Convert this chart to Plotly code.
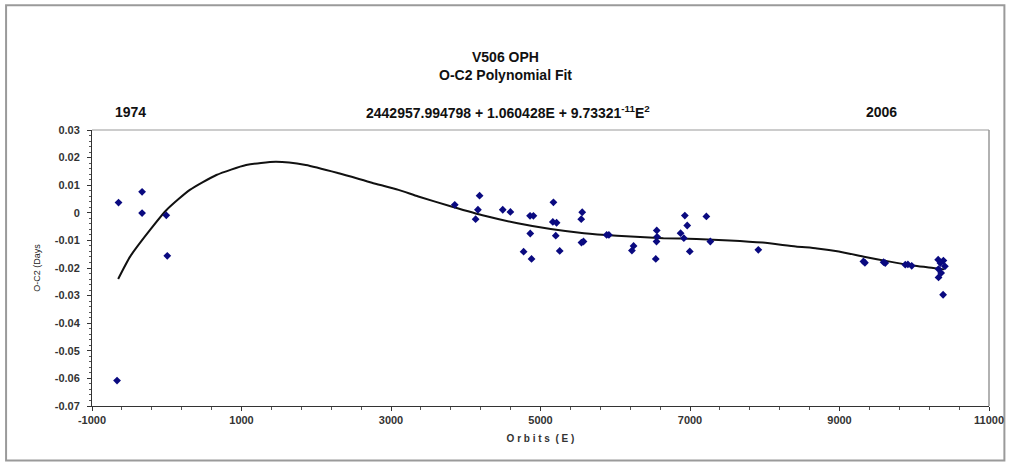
import plotly.graph_objects as go

# Observed O-C2 values (orbit number E, days)
E_obs = [-645, -665, -330, -330, -6, 7,
         3853, 4185, 4163, 4132, 4495, 4597, 4860, 4905, 4863, 4774, 4880,
         5173, 5165, 5215, 5204, 5257, 5558, 5545, 5548, 5575, 5885, 5915,
         6245, 6223, 6555, 6560, 6552, 6542, 6931, 6963, 6874, 6918, 6997,
         7219, 7272, 7914, 9320, 9340, 9590, 9612, 9880, 9915, 9966,
         10320, 10390, 10350, 10410, 10325, 10360, 10325, 10386]
OC_obs = [0.0037, -0.0608, 0.0076, -0.0001, -0.0009, -0.0156,
          0.0029, 0.0062, 0.0011, -0.0023, 0.0011, 0.0003, -0.0011, -0.0011, -0.0075, -0.0141, -0.0167,
          0.0038, -0.0033, -0.0036, -0.0083, -0.0138, 0.0002, -0.0023, -0.0108, -0.0104, -0.0080, -0.0080,
          -0.0120, -0.0137, -0.0064, -0.0087, -0.0104, -0.0167, -0.0010, -0.0046, -0.0074, -0.0092, -0.0140,
          -0.0013, -0.0104, -0.0134, -0.0176, -0.0181, -0.0179, -0.0182, -0.0188, -0.0187, -0.0192,
          -0.0170, -0.0173, -0.0182, -0.0194, -0.0204, -0.0218, -0.0234, -0.0297]

# Polynomial fit curve
E_fit = [-650, -488, -223, 0, 309, 664, 1062, 1461, 1860, 2302, 2745, 3100, 3365,
         3808, 4252, 4694, 5137, 5581, 6023, 6644, 7087, 7529, 7972, 8415, 8700,
         8991, 9345, 9655, 10010, 10253, 10400]
OC_fit = [-0.0240, -0.0158, -0.0062, 0.0011, 0.0083, 0.0137, 0.0173, 0.0185, 0.0173, 0.0143, 0.0109, 0.0083, 0.0059,
          0.0023, -0.0011, -0.0038, -0.0059, -0.0074, -0.0083, -0.0092, -0.0095, -0.0100, -0.0108, -0.0122, -0.0129,
          -0.0140, -0.0160, -0.0176, -0.0192, -0.0200, -0.0205]

y_tickvals = [0.03, 0.02, 0.01, 0, -0.01, -0.02, -0.03, -0.04, -0.05, -0.06, -0.07]
y_ticktext = ["0.03", "0.02", "0.01", "0", "-0.01", "-0.02", "-0.03", "-0.04", "-0.05", "-0.06", "-0.07"]
x_tickvals = [-1000, 1000, 3000, 5000, 7000, 9000, 11000]
x_ticktext = ["-1000", "1000", "3000", "5000", "7000", "9000", "11000"]

FONT = "Liberation Sans, Arial, sans-serif"

fig = go.Figure()
fig.add_trace(go.Scatter(x=E_fit, y=OC_fit, mode="lines",
                         line=dict(color="#111111", width=2, shape="spline", smoothing=0.6),
                         hoverinfo="skip", showlegend=False))
fig.add_trace(go.Scatter(x=E_obs, y=OC_obs, mode="markers",
                         marker=dict(symbol="diamond", size=6, color="#0a0a80"),
                         showlegend=False))

W, H = 1016, 464
L, R, T, B = 91.5, 21.5, 130, 57.5
pw, ph = W - L - R, H - T - B


def px(xp):
    return (xp - L) / pw


def py(yp):
    return (H - B - yp) / ph


def bold(items):
    return ["<b>%s</b>" % s for s in items]


fig.update_layout(
    width=W, height=H,
    margin=dict(l=L, r=R, t=T, b=B, pad=0),
    paper_bgcolor="white", plot_bgcolor="white",
    font=dict(family=FONT, size=10, color="#222222"),
    xaxis=dict(range=[-1000, 11000], tickvals=x_tickvals, ticktext=bold(x_ticktext),
               showgrid=False, zeroline=False, showline=True, linecolor="#333333", linewidth=1,
               ticks="outside", ticklen=4, tickcolor="#333333",
               minor=dict(dtick=400, tick0=-1000, ticks="outside", ticklen=3, tickcolor="#555555", showgrid=False),
               tickfont=dict(family=FONT, size=11, color="#333333"),
               title=dict(text="<b>O r b i t s  ( E )</b>", font=dict(family=FONT, size=10, color="#333333"),
                          standoff=9)),
    yaxis=dict(range=[-0.07, 0.03], tickvals=y_tickvals, ticktext=bold(y_ticktext),
               showgrid=False, zeroline=False, showline=True, linecolor="#333333", linewidth=1,
               ticks="outside", ticklen=4, tickcolor="#333333", ticklabelstandoff=5,
               minor=dict(dtick=0.002, tick0=0, ticks="outside", ticklen=2, tickcolor="#555555", showgrid=False),
               tickfont=dict(family=FONT, size=11, color="#333333"),
               title=dict(text="O-C2 (Days", font=dict(family=FONT, size=9, color="#222222"), standoff=12)),
    shapes=[
        # plot area right/top border
        dict(type="line", xref="paper", yref="paper", x0=0, y0=1, x1=1, y1=1,
             line=dict(color="#999999", width=1)),
        dict(type="line", xref="paper", yref="paper", x0=1, y0=0, x1=1, y1=1,
             line=dict(color="#999999", width=1.5)),
        # outer chart frame
        dict(type="rect", xref="paper", yref="paper", x0=px(5), y0=py(461), x1=px(1010), y1=py(5),
             line=dict(color="#9a9a9a", width=2), fillcolor="rgba(0,0,0,0)", layer="below"),
    ],
    annotations=[
        dict(text="<b>V506 OPH</b>", xref="paper", yref="paper", x=px(508), y=py(57),
             xanchor="center", yanchor="middle",
             showarrow=False, font=dict(family=FONT, size=14, color="#111111")),
        dict(text="<b>O-C2 Polynomial Fit</b>", xref="paper", yref="paper", x=px(508), y=py(75),
             xanchor="center", yanchor="middle",
             showarrow=False, font=dict(family=FONT, size=14, color="#111111")),
        dict(text="<b>1974</b>", xref="paper", yref="paper", x=px(130), y=py(112),
             xanchor="center", yanchor="middle",
             showarrow=False, font=dict(family=FONT, size=14, color="#111111")),
        dict(text="<b>2442957.994798 + 1.060428E + 9.73321<sup>-11</sup>E<sup>2</sup></b>",
             xref="paper", yref="paper", x=px(510), y=py(112),
             xanchor="center", yanchor="middle",
             showarrow=False, font=dict(family=FONT, size=14, color="#111111")),
        dict(text="<b>2006</b>", xref="paper", yref="paper", x=px(886), y=py(112),
             xanchor="center", yanchor="middle",
             showarrow=False, font=dict(family=FONT, size=14, color="#111111")),
    ],
)

fig.write_html("out.html")
